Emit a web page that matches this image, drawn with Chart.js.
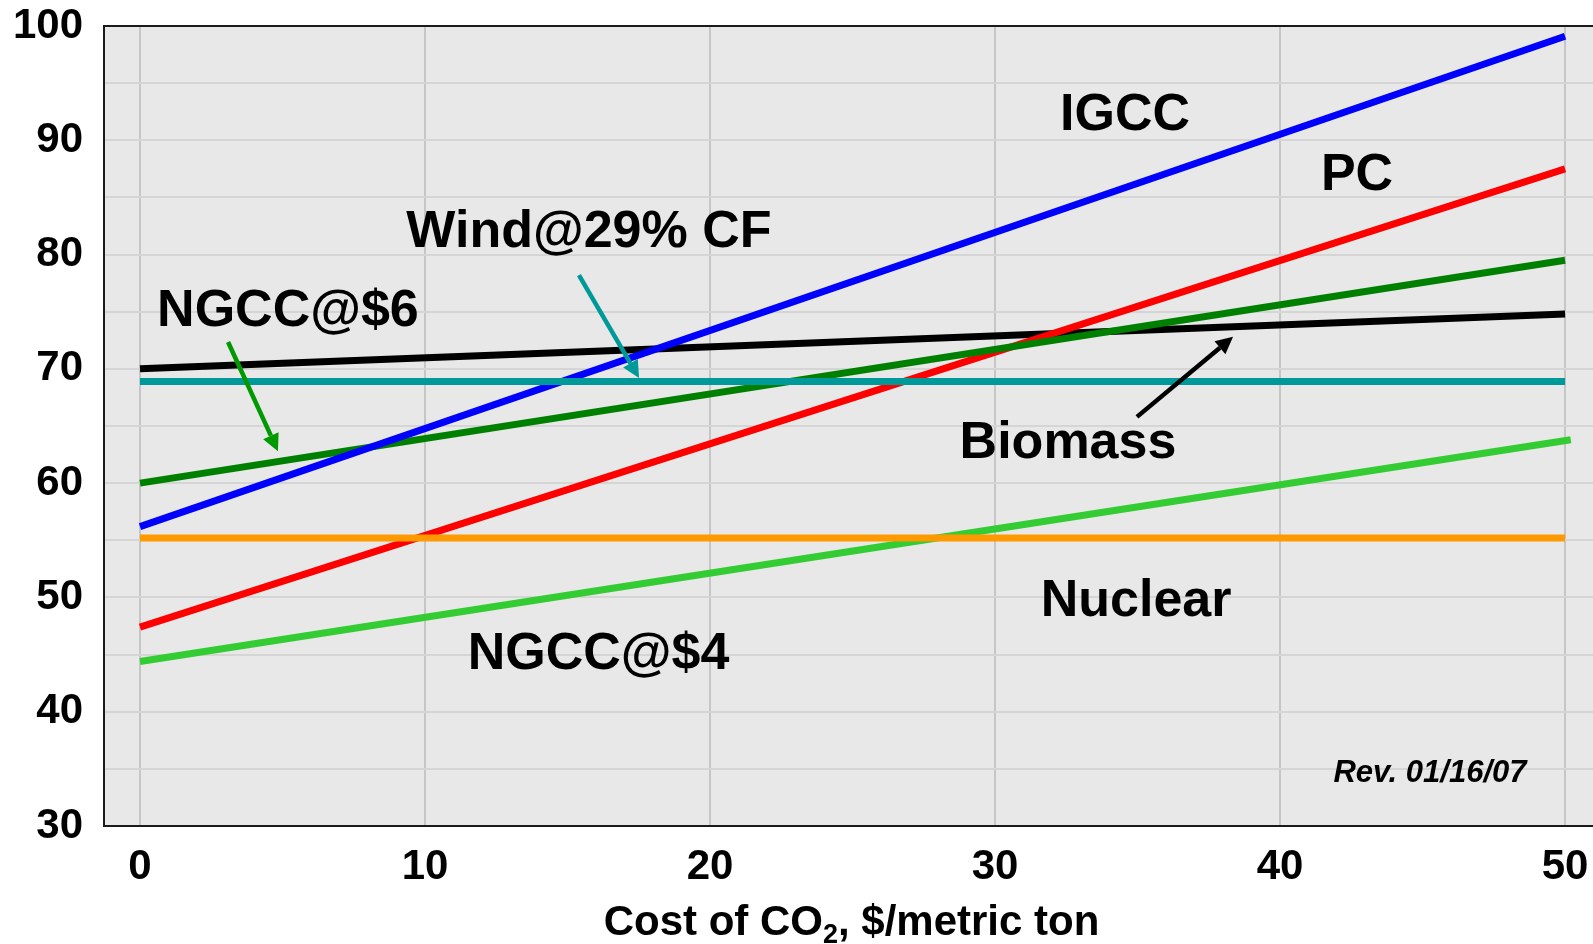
<!DOCTYPE html>
<html>
<head>
<meta charset="utf-8">
<title>Levelized cost of electricity vs. cost of CO2</title>
<script src="https://cdn.jsdelivr.net/npm/chart.js@4/dist/chart.umd.min.js"></script>
<style>
  html, body { margin: 0; padding: 0; background: #ffffff; overflow: hidden; }
  #wrap { width: 1593px; height: 944px; }
</style>
</head>
<body>
<div id="wrap"><canvas id="chart" width="1593" height="944"></canvas></div>
<script>
// CO2 price points ($/metric ton) at which each technology's cost is given
const costCO2 = [0, 50];
const costCO2Ngcc4 = [0, 50.2];

// Cost of electricity for each technology
const igcc    = [56.2, 99.1];
const pc      = [47.4, 87.5];
const biomass = [70.0, 74.8];
const wind    = [68.9, 68.9];
const ngcc6   = [60.0, 79.5];
const ngcc4   = [44.4, 63.8];
const nuclear = [55.2, 55.2];

// Axis ticks
const xTicks = [0, 10, 20, 30, 40, 50];
const yGridTicks = [30, 35, 40, 45, 50, 55, 60, 65, 70, 75, 80, 85, 90, 95, 100];
const yLabelTicks = [30, 40, 50, 60, 70, 80, 90, 100];

const xAxisTitle = ['Cost of CO', '2', ', $/metric ton'];
const revisionNote = 'Rev. 01/16/07';

// In-plot series names, placed in data units (cost of CO2, cost of electricity)
const seriesLabels = [
  { text: 'IGCC',        x: 34.56, y: 92.3 },
  { text: 'PC',          x: 42.70, y: 87.1 },
  { text: 'Wind@29% CF', x: 15.75, y: 82.1 },
  { text: 'NGCC@$6',     x: 5.19,  y: 75.2 },
  { text: 'Biomass',     x: 32.56, y: 63.6 },
  { text: 'Nuclear',     x: 34.95, y: 49.8 },
  { text: 'NGCC@$4',     x: 16.09, y: 45.2 }
];

// Pointer arrows from labels to their lines
const arrows = [
  { color: '#009999', x0: 15.40, y0: 78.2, x1: 17.51, y1: 69.2 },
  { color: '#009900', x0: 3.09,  y0: 72.35, x1: 4.84, y1: 62.8 },
  { color: '#000000', x0: 34.98, y0: 65.8, x1: 38.35, y1: 72.8 }
];

const FONT = '"Liberation Sans", Arial, Helvetica, sans-serif';

function pts(xs, ys) { return xs.map((x, i) => ({ x: x, y: ys[i] })); }

function series(label, xs, ys, color) {
  return {
    label: label,
    data: pts(xs, ys),
    borderColor: color,
    backgroundColor: color,
    borderWidth: 7,
    pointRadius: 0,
    showLine: true,
    tension: 0,
    borderCapStyle: 'butt'
  };
}

// Plot background, annotations and frame
const plotFrame = {
  id: 'plotFrame',
  beforeDraw(chart) {
    const { ctx, chartArea: a } = chart;
    ctx.save();
    ctx.fillStyle = '#e8e8e8';
    ctx.fillRect(a.left, a.top, a.right - a.left, a.bottom - a.top);
    ctx.restore();
  },
  afterDatasetsDraw(chart) {
    const { ctx, chartArea: a, scales } = chart;
    const xs = scales.x, ys = scales.y;
    ctx.save();

    // arrows
    arrows.forEach(ar => {
      const x0 = xs.getPixelForValue(ar.x0), y0 = ys.getPixelForValue(ar.y0);
      const x1 = xs.getPixelForValue(ar.x1), y1 = ys.getPixelForValue(ar.y1);
      const ang = Math.atan2(y1 - y0, x1 - x0);
      const headLen = 17, headHalf = 8.5;
      const bx = x1 - headLen * Math.cos(ang), by = y1 - headLen * Math.sin(ang);
      ctx.strokeStyle = ar.color;
      ctx.fillStyle = ar.color;
      ctx.lineWidth = 4.5;
      ctx.lineCap = 'butt';
      ctx.beginPath();
      ctx.moveTo(x0, y0);
      ctx.lineTo(bx, by);
      ctx.stroke();
      ctx.beginPath();
      ctx.moveTo(x1, y1);
      ctx.lineTo(bx + headHalf * Math.sin(ang), by - headHalf * Math.cos(ang));
      ctx.lineTo(bx - headHalf * Math.sin(ang), by + headHalf * Math.cos(ang));
      ctx.closePath();
      ctx.fill();
    });

    // series names
    ctx.fillStyle = '#000000';
    ctx.font = 'bold 52px ' + FONT;
    ctx.textAlign = 'center';
    ctx.textBaseline = 'middle';
    seriesLabels.forEach(l => {
      ctx.fillText(l.text, xs.getPixelForValue(l.x), ys.getPixelForValue(l.y) + 2);
    });

    // revision note
    ctx.font = 'italic bold 31px ' + FONT;
    ctx.fillText(revisionNote, xs.getPixelForValue(45.26), ys.getPixelForValue(34.72) + 1);

    // frame: top, left, bottom (right side runs past the canvas)
    ctx.strokeStyle = '#1a1a1a';
    ctx.lineWidth = 2;
    ctx.beginPath();
    ctx.moveTo(a.right + 4, a.top);
    ctx.lineTo(a.left, a.top);
    ctx.lineTo(a.left, a.bottom);
    ctx.lineTo(a.right + 4, a.bottom);
    ctx.stroke();
    ctx.restore();
  },
  afterDraw(chart) {
    // x-axis title with subscript
    const { ctx, chartArea: a } = chart;
    ctx.save();
    ctx.fillStyle = '#000000';
    ctx.textBaseline = 'alphabetic';
    ctx.textAlign = 'left';
    const mainFont = 'bold 42px ' + FONT, subFont = 'bold 27px ' + FONT;
    ctx.font = mainFont; const w0 = ctx.measureText(xAxisTitle[0]).width;
    ctx.font = subFont;  const w1 = ctx.measureText(xAxisTitle[1]).width;
    ctx.font = mainFont; const w2 = ctx.measureText(xAxisTitle[2]).width;
    const total = w0 + w1 + w2;
    let x = (a.left + a.right) / 2 + 3 - total / 2;
    const base = 935;
    ctx.font = mainFont; ctx.fillText(xAxisTitle[0], x, base); x += w0;
    ctx.font = subFont;  ctx.fillText(xAxisTitle[1], x, base + 8); x += w1;
    ctx.font = mainFont; ctx.fillText(xAxisTitle[2], x, base);
    ctx.restore();
  }
};

new Chart(document.getElementById('chart'), {
  type: 'scatter',
  data: {
    datasets: [
      series('Wind@29% CF', costCO2, wind, '#009999'),
      series('Nuclear', costCO2, nuclear, '#ff9900'),
      series('IGCC', costCO2, igcc, '#0000ff'),
      series('NGCC@$6', costCO2, ngcc6, '#008000'),
      series('PC', costCO2, pc, '#ff0000'),
      series('Biomass', costCO2, biomass, '#000000'),
      series('NGCC@$4', costCO2Ngcc4, ngcc4, '#33cc33')
    ]
  },
  options: {
    responsive: false,
    animation: false,
    events: [],
    layout: { padding: { top: 26, left: 0, right: 0, bottom: 0 } },
    plugins: { legend: { display: false }, tooltip: { enabled: false }, title: { display: false } },
    scales: {
      x: {
        type: 'linear',
        min: -1.263,
        max: 50.98,
        afterBuildTicks: s => { s.ticks = xTicks.map(v => ({ value: v })); },
        afterFit: s => { s.height = 118; s.paddingLeft = 0; s.paddingRight = 0; },
        grid: { color: '#c6c6c6', lineWidth: 2, drawTicks: false },
        border: { display: false },
        ticks: {
          color: '#000000',
          font: { family: FONT, size: 42, weight: 'bold' },
          padding: 16,
          maxRotation: 0,
          autoSkip: false,
          callback: v => String(v)
        }
      },
      y: {
        type: 'linear',
        min: 30,
        max: 100,
        afterBuildTicks: s => { s.ticks = yGridTicks.map(v => ({ value: v })); },
        afterFit: s => { s.width = 104; s.paddingTop = 0; s.paddingBottom = 0; },
        grid: { color: '#d5d5d5', lineWidth: 2, drawTicks: false },
        border: { display: false },
        ticks: {
          color: '#000000',
          font: { family: FONT, size: 42, weight: 'bold' },
          padding: 21,
          autoSkip: false,
          callback: v => (yLabelTicks.includes(v) ? String(v) : '')
        }
      }
    }
  },
  plugins: [plotFrame]
});
</script>
</body>
</html>
